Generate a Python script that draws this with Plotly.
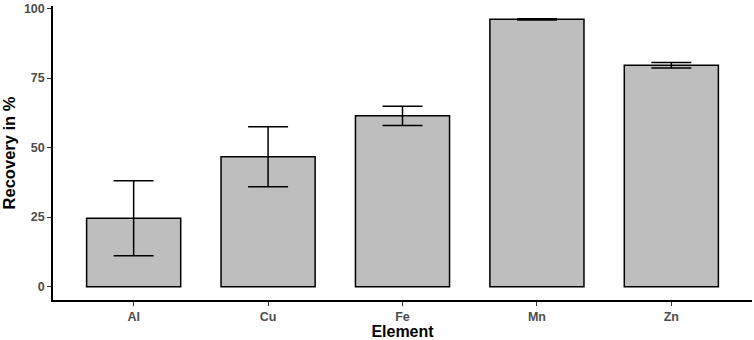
import plotly.graph_objects as go

elements = ["Al", "Cu", "Fe", "Mn", "Zn"]
recovery = [24.6, 46.7, 61.4, 96.1, 79.6]
sd = [13.5, 10.8, 3.5, 0.2, 1.0]
y_ticks = [0, 25, 50, 75, 100]

fig = go.Figure(go.Bar(
    x=elements, y=recovery, width=0.7,
    marker=dict(color="#BEBEBE", line=dict(color="black", width=1.5)),
    error_y=dict(type="data", array=sd, visible=True, color="black", thickness=1.5, width=20),
))

fig.update_layout(
    width=754, height=340,
    margin=dict(l=53, r=2, t=3, b=40),
    plot_bgcolor="white", paper_bgcolor="white",
    font=dict(family="Liberation Sans, Arial, sans-serif"),
    showlegend=False,
)
fig.update_xaxes(
    range=[-0.6, 4.6], showline=True, linecolor="black", linewidth=1.5,
    ticks="outside", ticklen=4, tickcolor="#333333", tickwidth=1.2,
    tickfont=dict(size=12.5, color="#4D4D4D", weight="bold"),
    title=dict(text="<b>Element</b>", font=dict(size=16, color="black"), standoff=0),
    showgrid=False, zeroline=False,
)
fig.update_yaxes(
    range=[-4.8, 100.9], tickvals=y_ticks, ticktext=[str(v) for v in y_ticks],
    showline=True, linecolor="black", linewidth=1.5,
    ticks="outside", ticklen=4, tickcolor="#333333", tickwidth=1.2,
    tickfont=dict(size=12.5, color="#4D4D4D", weight="bold"),
    ticklabeloverflow="allow",
    title=dict(text="<b>Recovery in %</b>", font=dict(size=16.5, color="black"), standoff=6),
    showgrid=False, zeroline=False,
)

fig.write_html("out.html", config={"displayModeBar": False},
               post_script="document.body.style.margin='0';document.body.style.padding='0';")
